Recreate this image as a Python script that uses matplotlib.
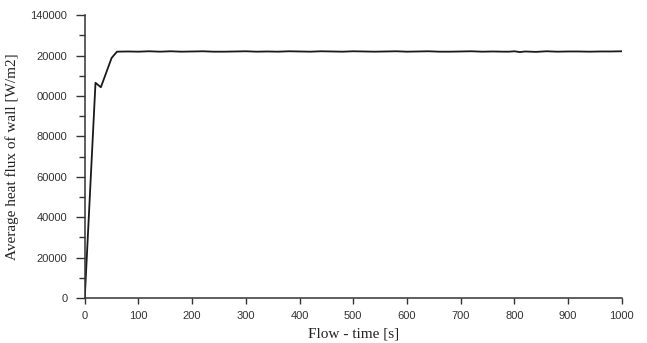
import numpy as np
import matplotlib.pyplot as plt
from matplotlib.ticker import MultipleLocator

# flow time [s] and average wall heat flux [W/m2]
time = [0, 20, 30, 50, 60, 80, 100, 120, 140, 160, 180, 200, 220, 240, 260,
        280, 300, 320, 340, 360, 380, 400, 420, 440, 460, 480, 500, 520, 540,
        560, 580, 600, 620, 640, 660, 680, 700, 720, 740, 760, 780, 790, 800,
        810, 820, 840, 860, 880, 900, 920, 940, 960, 980, 1000]
heat_flux = [0, 106500, 104300, 118800, 121900, 122000, 121900, 122100, 121900,
             122100, 121900, 122000, 122100, 121900, 121900, 122000, 122100,
             121900, 122000, 121900, 122100, 122000, 121900, 122100, 122000,
             121900, 122100, 122000, 121900, 122000, 122100, 121900, 122000,
             122100, 121900, 121900, 122000, 122100, 121900, 122000, 121900,
             121900, 122100, 121700, 122000, 121800, 122100, 121900, 122000,
             122000, 121900, 122000, 122000, 122100]

y_ticks = [0, 20000, 40000, 60000, 80000, 100000, 120000, 140000]
y_tick_labels = ['0', '20000', '40000', '60000', '80000', '00000', '20000', '140000']
x_ticks = [0, 100, 200, 300, 400, 500, 600, 700, 800, 900, 1000]

fig = plt.figure(figsize=(6.47, 3.43), dpi=100)
ax = fig.add_axes([0.131, 0.131, 0.830, 0.825])

ax.plot(time, heat_flux, color='#1a1a1a', lw=1.3)

ax.set_xlim(0, 1000)
ax.set_ylim(0, 140000)
ax.set_xticks(x_ticks)
ax.set_yticks(y_ticks)
ax.set_yticklabels(y_tick_labels)
ax.yaxis.set_minor_locator(MultipleLocator(10000))

for s in ['top', 'right']:
    ax.spines[s].set_visible(False)
for s in ['left', 'bottom']:
    ax.spines[s].set_color('#333333')
    ax.spines[s].set_linewidth(1.1)

ax.tick_params(axis='both', which='major', direction='out', colors='#333333',
               labelsize=8, width=1.0)
ax.tick_params(axis='y', which='major', length=6.5, pad=6)
ax.tick_params(axis='y', which='minor', length=4.3, width=1.0, colors='#333333')
ax.tick_params(axis='x', which='major', length=4, pad=5)
for lab in ax.get_xticklabels() + ax.get_yticklabels():
    lab.set_fontfamily('Liberation Sans')

ax.set_xlabel('Flow - time [s]', family='Liberation Serif', fontsize=11,
              color='#222222', labelpad=5)
ax.set_ylabel('Average heat flux of wall [W/m2]', family='Liberation Serif',
              fontsize=11, color='#222222', labelpad=8)

fig.savefig('out.png', dpi=100)
